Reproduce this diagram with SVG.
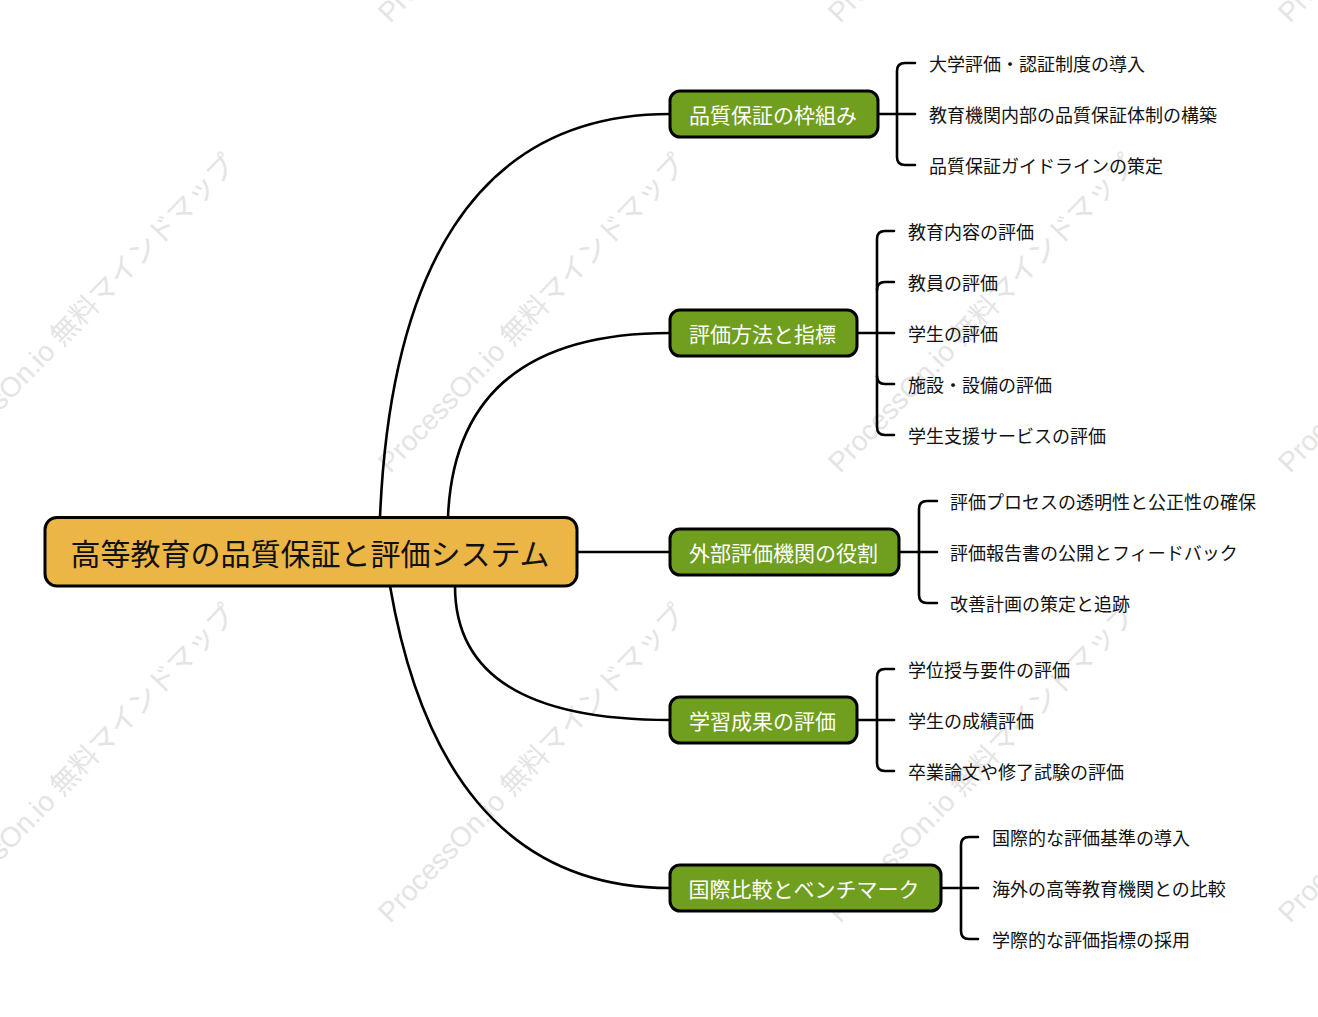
<svg xmlns="http://www.w3.org/2000/svg" width="1318" height="1017" viewBox="0 0 1318 1017">
<style>
.wm{font-family:"Liberation Sans","Noto Sans CJK JP",sans-serif;font-size:28px;fill:#e4e4e4}
.conn path{fill:none;stroke:#000;stroke-width:2.6;stroke-linecap:round}
.root rect{fill:#EBB646;stroke:#000;stroke-width:3}
.root text{font-family:"Noto Sans CJK JP",sans-serif;font-size:30px;fill:#111;text-anchor:middle;dominant-baseline:central}
.l1 rect{fill:#709E1F;stroke:#000;stroke-width:3}
.l1 text{font-family:"Noto Sans CJK JP",sans-serif;font-size:21px;fill:#fff;text-anchor:middle;dominant-baseline:central}
.leaf text{font-family:"Noto Sans CJK JP",sans-serif;font-size:18px;fill:#111;dominant-baseline:central}
</style>
<rect width="1318" height="1017" fill="#fff"/>
<g id="watermark">
<text class="wm" transform="translate(-60,24) rotate(-46)">ProcessOn.io 無料マインドマップ</text>
<text class="wm" transform="translate(390,24) rotate(-46)">ProcessOn.io 無料マインドマップ</text>
<text class="wm" transform="translate(840,24) rotate(-46)">ProcessOn.io 無料マインドマップ</text>
<text class="wm" transform="translate(1290,24) rotate(-46)">ProcessOn.io 無料マインドマップ</text>
<text class="wm" transform="translate(-60,474) rotate(-46)">ProcessOn.io 無料マインドマップ</text>
<text class="wm" transform="translate(390,474) rotate(-46)">ProcessOn.io 無料マインドマップ</text>
<text class="wm" transform="translate(840,474) rotate(-46)">ProcessOn.io 無料マインドマップ</text>
<text class="wm" transform="translate(1290,474) rotate(-46)">ProcessOn.io 無料マインドマップ</text>
<text class="wm" transform="translate(-60,924) rotate(-46)">ProcessOn.io 無料マインドマップ</text>
<text class="wm" transform="translate(390,924) rotate(-46)">ProcessOn.io 無料マインドマップ</text>
<text class="wm" transform="translate(840,924) rotate(-46)">ProcessOn.io 無料マインドマップ</text>
<text class="wm" transform="translate(1290,924) rotate(-46)">ProcessOn.io 無料マインドマップ</text>
</g>
<g id="connectors" class="conn">
<path d="M380,517 C390,280 470,114 670,114"/>
<path d="M448,517 C452,420 500,333 670,333"/>
<path d="M577,552 L670,552"/>
<path d="M455,586 Q455,720 670,720"/>
<path d="M390,586 C420,760 500,888 670,888"/>
<path d="M878,114 L915,114"/>
<path d="M915,63 L905,63 Q897,63 897,71 L897,157 Q897,165 905,165 L915,165"/>
<path d="M857,333 L894,333"/>
<path d="M894,231 L885,231 Q877,231 877,239 L877,427 Q877,435 885,435 L894,435"/>
<path d="M877,290 Q877,282 885,282 L894,282"/>
<path d="M877,376 Q877,384 885,384 L894,384"/>
<path d="M899,552 L937,552"/>
<path d="M937,501 L927,501 Q919,501 919,509 L919,595 Q919,603 927,603 L937,603"/>
<path d="M857,720 L894,720"/>
<path d="M894,669 L885,669 Q877,669 877,677 L877,763 Q877,771 885,771 L894,771"/>
<path d="M941,888 L978,888"/>
<path d="M978,837 L969,837 Q961,837 961,845 L961,931 Q961,939 969,939 L978,939"/>
</g>
<g id="root" class="root">
<rect x="45" y="517.5" width="532" height="68.5" rx="12"/>
<text x="310" y="552">高等教育の品質保証と評価システム</text>
</g>
<g id="n1" class="l1">
<rect x="670" y="91" width="208" height="46" rx="10"/>
<text x="773" y="114">品質保証の枠組み</text>
</g>
<g id="n2" class="l1">
<rect x="670" y="310" width="187" height="46" rx="10"/>
<text x="762.5" y="333">評価方法と指標</text>
</g>
<g id="n3" class="l1">
<rect x="670" y="529" width="229" height="46" rx="10"/>
<text x="783.5" y="552">外部評価機関の役割</text>
</g>
<g id="n4" class="l1">
<rect x="670" y="697" width="187" height="46" rx="10"/>
<text x="762.5" y="720">学習成果の評価</text>
</g>
<g id="n5" class="l1">
<rect x="670" y="865" width="271" height="46" rx="10"/>
<text x="804" y="888">国際比較とベンチマーク</text>
</g>
<g id="leaves1" class="leaf">
<g id="n1a"><text x="929" y="63">大学評価・認証制度の導入</text></g>
<g id="n1b"><text x="929" y="114">教育機関内部の品質保証体制の構築</text></g>
<g id="n1c"><text x="929" y="165">品質保証ガイドラインの策定</text></g>
</g>
<g id="leaves2" class="leaf">
<g id="n2a"><text x="908" y="231">教育内容の評価</text></g>
<g id="n2b"><text x="908" y="282">教員の評価</text></g>
<g id="n2c"><text x="908" y="333">学生の評価</text></g>
<g id="n2d"><text x="908" y="384">施設・設備の評価</text></g>
<g id="n2e"><text x="908" y="435">学生支援サービスの評価</text></g>
</g>
<g id="leaves3" class="leaf">
<g id="n3a"><text x="950" y="501">評価プロセスの透明性と公正性の確保</text></g>
<g id="n3b"><text x="950" y="552">評価報告書の公開とフィードバック</text></g>
<g id="n3c"><text x="950" y="603">改善計画の策定と追跡</text></g>
</g>
<g id="leaves4" class="leaf">
<g id="n4a"><text x="908" y="669">学位授与要件の評価</text></g>
<g id="n4b"><text x="908" y="720">学生の成績評価</text></g>
<g id="n4c"><text x="908" y="771">卒業論文や修了試験の評価</text></g>
</g>
<g id="leaves5" class="leaf">
<g id="n5a"><text x="992" y="837">国際的な評価基準の導入</text></g>
<g id="n5b"><text x="992" y="888">海外の高等教育機関との比較</text></g>
<g id="n5c"><text x="992" y="939">学際的な評価指標の採用</text></g>
</g>
</svg>
